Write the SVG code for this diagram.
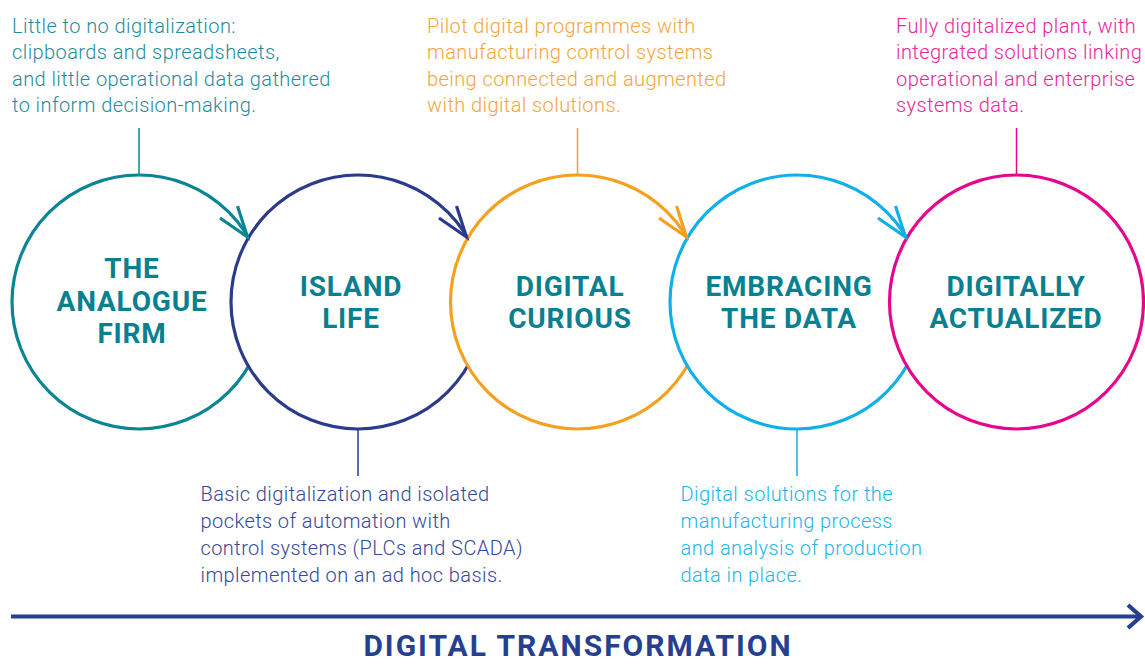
<svg xmlns="http://www.w3.org/2000/svg" width="1145" height="664" viewBox="0 0 1145 664">
<style>
.c{fill:#fff;stroke-width:3.2}
.t{font-family:Roboto,"Liberation Sans",sans-serif;font-weight:700;font-size:28px;fill:#08808f;text-anchor:middle;letter-spacing:0.8px}
.d{font-family:Roboto,"Liberation Sans",sans-serif;font-weight:300;font-size:20px;letter-spacing:0.42px}
.s{stroke-width:1.5;fill:none}
.ah{fill:none;stroke-width:3.2;stroke-linecap:butt;stroke-linejoin:miter}
</style>
<rect width="1145" height="664" fill="#fff"/>
<g id="connectors">
<line class="s" x1="139" y1="128" x2="139" y2="176" stroke="#0b8493"/>
<line class="s" x1="358" y1="428" x2="358" y2="476" stroke="#2b3b8c"/>
<line class="s" x1="577.5" y1="128" x2="577.5" y2="176" stroke="#f5a01f"/>
<line class="s" x1="797" y1="428" x2="797" y2="476" stroke="#0fb0ea"/>
<line class="s" x1="1016.5" y1="128" x2="1016.5" y2="176" stroke="#e6068d"/>
</g>
<g id="n1">
<circle class="c" cx="139" cy="302" r="127" stroke="#0b8493"/>
<text class="t"><tspan x="132" y="278">THE</tspan><tspan x="132" y="311">ANALOGUE</tspan><tspan x="132" y="343">FIRM</tspan></text>
</g>
<g id="n2">
<circle class="c" cx="358" cy="302" r="127" stroke="#2b3b8c"/>
<text class="t"><tspan x="351" y="296">ISLAND</tspan><tspan x="351" y="328">LIFE</tspan></text>
</g>
<g id="n3">
<circle class="c" cx="577.5" cy="302" r="127" stroke="#f5a01f"/>
<text class="t"><tspan x="570" y="296">DIGITAL</tspan><tspan x="570" y="328">CURIOUS</tspan></text>
</g>
<g id="n4">
<circle class="c" cx="797" cy="302" r="127" stroke="#0fb0ea"/>
<text class="t"><tspan x="789" y="296">EMBRACING</tspan><tspan x="789" y="328">THE DATA</tspan></text>
</g>
<g id="n5">
<circle class="c" cx="1016.5" cy="302" r="127" stroke="#e6068d"/>
<text class="t"><tspan x="1016" y="296">DIGITALLY</tspan><tspan x="1016" y="328">ACTUALIZED</tspan></text>
</g>
<g id="arrowheads">
<polyline class="ah" points="220,218 247.5,237 237.5,206" stroke="#0b8493"/>
<polyline class="ah" points="439,218 466.5,237 456.5,206" stroke="#2b3b8c"/>
<polyline class="ah" points="659,218 686.5,237 676.5,206" stroke="#f5a01f"/>
<polyline class="ah" points="878,218 905.5,237 895.5,206" stroke="#0fb0ea"/>
</g>
<g id="labels">
<text class="d" fill="#1f8c9b"><tspan x="12" y="32.5">Little to no digitalization:</tspan><tspan x="12" y="59">clipboards and spreadsheets,</tspan><tspan x="12" y="85.5">and little operational data gathered</tspan><tspan x="12" y="112">to inform decision-making.</tspan></text>
<text class="d" fill="#f5a53d"><tspan x="427" y="32.5">Pilot digital programmes with</tspan><tspan x="427" y="59">manufacturing control systems</tspan><tspan x="427" y="85.5">being connected and augmented</tspan><tspan x="427" y="112">with digital solutions.</tspan></text>
<text class="d" fill="#e8279a"><tspan x="896" y="32.5">Fully digitalized plant, with</tspan><tspan x="896" y="59">integrated solutions linking</tspan><tspan x="896" y="85.5">operational and enterprise</tspan><tspan x="896" y="112">systems data.</tspan></text>
<text class="d" fill="#34479a"><tspan x="200.5" y="501">Basic digitalization and isolated</tspan><tspan x="200.5" y="528">pockets of automation with</tspan><tspan x="200.5" y="555">control systems (PLCs and SCADA)</tspan><tspan x="200.5" y="581.5">implemented on an ad hoc basis.</tspan></text>
<text class="d" fill="#22b4ec"><tspan x="680.5" y="501">Digital solutions for the</tspan><tspan x="680.5" y="528">manufacturing process</tspan><tspan x="680.5" y="555">and analysis of production</tspan><tspan x="680.5" y="581.5">data in place.</tspan></text>
</g>
<g id="timeline">
<line x1="11" y1="616.5" x2="1141" y2="616.5" stroke="#263f8f" stroke-width="4"/>
<polyline points="1128,605 1141,616.5 1128,628" fill="none" stroke="#263f8f" stroke-width="4.2"/>
<text x="578" y="656" font-family="Roboto,'Liberation Sans',sans-serif" font-weight="700" font-size="30" fill="#263f8f" text-anchor="middle" letter-spacing="2">DIGITAL TRANSFORMATION</text>
</g>
</svg>
